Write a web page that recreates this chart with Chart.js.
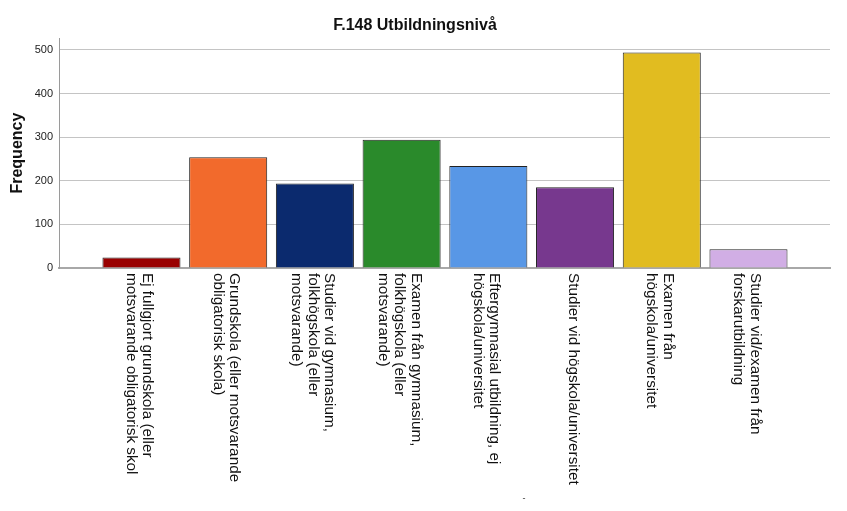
<!DOCTYPE html>
<html>
<head>
<meta charset="utf-8">
<script src="https://cdn.jsdelivr.net/npm/chart.js@4"></script>
<style>
  html, body { margin: 0; padding: 0; background: #ffffff; }
  #wrap { width: 847px; height: 511px; position: relative; }
</style>
</head>
<body>
<div id="wrap"><canvas id="c" width="847" height="511"></canvas></div>
<script>
const chartTitle = "F.148 Utbildningsnivå";
const yAxisTitle = "Frequency";
const categories = [
  ["Ej fullgjort grundskola (eller", "motsvarande obligatorisk skol"],
  ["Grundskola (eller motsvarande", "obligatorisk skola)"],
  ["Studier vid gymnasium,", "folkhögskola (eller", "motsvarande)"],
  ["Examen från gymnasium,", "folkhögskola (eller", "motsvarande)"],
  ["Eftergymnasial utbildning, ej", "högskola/universitet"],
  ["Studier vid högskola/universitet"],
  ["Examen från", "högskola/universitet"],
  ["Studier vid/examen från", "forskarutbildning"]
];
const frequencies = [24, 254, 194, 294, 234, 185, 494, 43];
const barColors = ["#990000", "#F26A2C", "#0B2A6E", "#2A8A2B", "#5897E6", "#77388E", "#E1BC20", "#D1AEE5"];
const yTicks = [0, 100, 200, 300, 400, 500];

const FONT = "'Liberation Sans', Arial, sans-serif";

const catLabelPlugin = {
  id: 'catLabels',
  afterDraw(chart) {
    const ctx = chart.ctx;
    const xs = chart.scales.x;
    const top = chart.chartArea.bottom + 5;
    const lineH = 16.5;
    ctx.save();
    ctx.fillStyle = '#111111';
    ctx.font = "15.3px " + FONT;
    ctx.textAlign = 'left';
    ctx.textBaseline = 'middle';
    categories.forEach((lines, i) => {
      const x = xs.getPixelForValue(i) - 2;
      ctx.save();
      ctx.translate(x, top);
      ctx.rotate(Math.PI / 2);
      const n = lines.length;
      lines.forEach((ln, k) => {
        ctx.fillText(ln, 0, (k - (n - 1) / 2) * lineH);
      });
      ctx.restore();
    });
    // tiny axis title mark
    ctx.font = "9px " + FONT;
    ctx.textAlign = 'center';
    ctx.fillStyle = '#333333';
    ctx.fillText("-", xs.getPixelForValue(4.41), chart.height - 12);
    ctx.restore();
  }
};

new Chart(document.getElementById('c'), {
  type: 'bar',
  data: {
    datasets: [{
      data: frequencies.map((v, i) => ({ x: i, y: v })),
      backgroundColor: barColors,
      borderColor: '#222222',
      borderWidth: 1,
      barPercentage: 0.9,
      categoryPercentage: 1.0
    }]
  },
  options: {
    responsive: false,
    animation: false,
    devicePixelRatio: 1,
    layout: { padding: { left: 0, right: 17, top: 0, bottom: 0 } },
    plugins: {
      legend: { display: false },
      tooltip: { enabled: false },
      title: {
        display: true,
        text: chartTitle,
        color: '#111111',
        font: { family: FONT, size: 16, weight: 'bold', lineHeight: 1.2 },
        padding: { top: 16, bottom: 3 }
      }
    },
    scales: {
      x: {
        type: 'linear',
        offset: false,
        min: -0.951,
        max: 7.94,
        afterBuildTicks(scale) { scale.ticks = categories.map((c, i) => ({ value: i })); },
        grid: { display: false, offset: false },
        border: { display: true, color: '#a8a8a8', width: 2 },
        ticks: { display: false },
        afterFit(scale) { scale.height = 243; }
      },
      y: {
        min: 0,
        max: 527,
        afterBuildTicks(scale) { scale.ticks = yTicks.map(v => ({ value: v })); },
        ticks: {
          color: '#222222',
          font: { family: FONT, size: 11 },
          padding: 6
        },
        grid: { color: '#c4c4c4', lineWidth: 1, drawTicks: false },
        border: { display: true, color: '#9a9a9a', width: 1 },
        title: {
          display: true,
          text: yAxisTitle,
          color: '#111111',
          font: { family: FONT, size: 16, weight: 'bold' },
          padding: { top: 8, bottom: 4 }
        },
        afterFit(scale) { scale.width = 59; }
      }
    }
  },
  plugins: [catLabelPlugin]
});
</script>
</body>
</html>
